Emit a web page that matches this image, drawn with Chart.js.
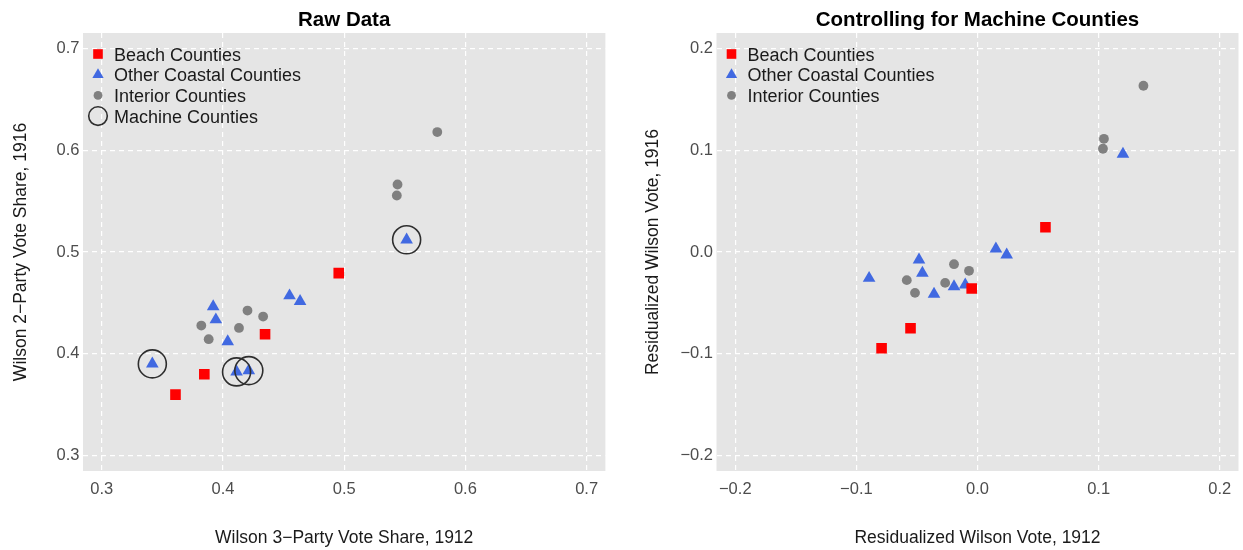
<!DOCTYPE html>
<html>
<head>
<meta charset="utf-8">
<title>Wilson vote share, 1912 vs 1916</title>
<script src="https://cdn.jsdelivr.net/npm/chart.js@4.4.1/dist/chart.umd.min.js"></script>
<style>
  html, body { margin: 0; padding: 0; background: #ffffff; overflow: hidden; }
  #wrap { position: relative; width: 1243px; height: 550px; overflow: hidden; }
  canvas { position: absolute; top: 0; }
  #rawChart { left: 0; }
  #residChart { left: 621px; }
</style>
</head>
<body>
<div id="wrap">
  <canvas id="rawChart" width="621" height="550"></canvas>
  <canvas id="residChart" width="625" height="550"></canvas>
</div>
<script>
// Wilson vote share by county type, raw and residualized

const seriesLabels = ['Beach Counties', 'Other Coastal Counties', 'Interior Counties', 'Machine Counties'];

// Raw data panel
const rawBeachX = [0.4955, 0.4347, 0.3846, 0.3608];
const rawBeachY = [0.4792, 0.4191, 0.3797, 0.3597];
const rawCoastalX = [0.5515, 0.4549, 0.4636, 0.3919, 0.3941, 0.4039, 0.3417, 0.4112, 0.4213];
const rawCoastalY = [0.5120, 0.4570, 0.4515, 0.4462, 0.4334, 0.4118, 0.3899, 0.3820, 0.3833];
const rawCoastalMachine = [true, false, false, false, false, false, true, true, true];
const rawInteriorX = [0.5768, 0.5440, 0.5434, 0.4202, 0.4331, 0.3821, 0.4132, 0.3882];
const rawInteriorY = [0.6180, 0.5664, 0.5556, 0.4424, 0.4365, 0.4276, 0.4253, 0.4142];
const rawTicksX = [0.3, 0.4, 0.5, 0.6, 0.7];
const rawTicksY = [0.3, 0.4, 0.5, 0.6, 0.7];

// Residualized panel
const resBeachX = [0.0561, -0.0048, -0.0553, -0.0792];
const resBeachY = [0.0244, -0.0359, -0.0750, -0.0947];
const resCoastalX = [0.1201, 0.0152, 0.0241, -0.0483, -0.0455, -0.0895, -0.0194, -0.0101, -0.0359];
const resCoastalY = [0.0963, 0.0031, -0.0028, -0.0077, -0.0208, -0.0258, -0.0340, -0.0323, -0.0415];
const resInteriorX = [0.1370, 0.1044, 0.1036, -0.0194, -0.0070, -0.0584, -0.0267, -0.0516];
const resInteriorY = [0.1636, 0.1114, 0.1016, -0.0120, -0.0185, -0.0277, -0.0304, -0.0402];
const resTicksX = [-0.2, -0.1, 0.0, 0.1, 0.2];
const resTicksY = [-0.2, -0.1, 0.0, 0.1, 0.2];

const FONT = "'Liberation Sans', Arial, Helvetica, sans-serif";
Chart.defaults.font.family = FONT;

function toPoints(xs, ys) {
    return xs.map((x, i) => ({ x: x, y: ys[i] }));
}

function fmt(v) {
    return v < 0 ? '\u2212' + Math.abs(v).toFixed(1) : v.toFixed(1);
}

// Draw one legend key
function drawKey(ctx, style, x, y, r, fill, stroke, lw) {
    ctx.beginPath();
    if (style === 'rect') {
        const s = r * Math.SQRT1_2;
        ctx.rect(x - s, y - s, 2 * s, 2 * s);
    } else if (style === 'triangle') {
        ctx.moveTo(x, y - r);
        ctx.lineTo(x + r * Math.sin(Math.PI * 2 / 3), y + r / 2);
        ctx.lineTo(x - r * Math.sin(Math.PI * 2 / 3), y + r / 2);
        ctx.closePath();
    } else {
        ctx.arc(x, y, r, 0, Math.PI * 2);
    }
    ctx.fillStyle = fill;
    ctx.fill();
    if (lw > 0) {
        ctx.strokeStyle = stroke;
        ctx.lineWidth = lw;
        ctx.stroke();
    }
}

// Grey panel behind the plot area
const panelBackground = {
    id: 'panelBackground',
    beforeDraw(chart) {
        const { ctx, chartArea: a } = chart;
        ctx.save();
        ctx.fillStyle = '#e5e5e5';
        ctx.fillRect(a.left, a.top, a.right - a.left, a.bottom - a.top);
        ctx.restore();
    }
};

// Bold title centred over the panel
const panelTitle = {
    id: 'panelTitle',
    afterDraw(chart, args, opts) {
        const { ctx, chartArea: a } = chart;
        ctx.save();
        ctx.font = 'bold 20.5px ' + FONT;
        ctx.fillStyle = '#000000';
        ctx.textAlign = 'center';
        ctx.textBaseline = 'alphabetic';
        ctx.fillText(opts.text, (a.left + a.right) / 2, 25.5);
        ctx.restore();
    }
};

// Legend drawn inside the top-left corner of the panel
const insideLegend = {
    id: 'insideLegend',
    afterDraw(chart) {
        const { ctx, chartArea: a } = chart;
        ctx.save();
        ctx.font = '18px ' + FONT;
        ctx.textBaseline = 'alphabetic';
        ctx.textAlign = 'left';
        chart.data.datasets.forEach((ds, i) => {
            const y = a.top + 21 + i * 20.7;
            drawKey(ctx, ds.pointStyle, a.left + 15, y, ds.legendRadius,
                    ds.backgroundColor, ds.borderColor, ds.borderWidth);
            ctx.fillStyle = '#1a1a1a';
            ctx.fillText(ds.label, a.left + 31, y + 6.5);
        });
        ctx.restore();
    }
};

function buildScales(cfg) {
    const grid = { color: '#ffffff', lineWidth: 1.2, drawTicks: false };
    const border = { display: false, dash: [5, 4] };
    const tickFont = { size: 16.5 };
    return {
        x: {
            type: 'linear',
            min: cfg.xMin,
            max: cfg.xMax,
            afterBuildTicks: s => { s.ticks = cfg.xTicks.map(v => ({ value: v })); },
            afterFit: s => { s.height = 79; },
            grid: grid,
            border: border,
            ticks: { padding: 8.5, color: '#4d4d4d', font: tickFont, autoSkip: false, maxRotation: 0, callback: fmt },
            title: { display: true, text: cfg.xTitle, color: '#1a1a1a', font: { size: 17.5 }, padding: { top: 0, bottom: 1.5 } }
        },
        y: {
            type: 'linear',
            min: cfg.yMin,
            max: cfg.yMax,
            afterBuildTicks: s => { s.ticks = cfg.yTicks.map(v => ({ value: v })); },
            afterFit: s => { s.width = cfg.yAxisWidth; },
            grid: grid,
            border: border,
            ticks: { padding: 3.5, color: '#4d4d4d', font: tickFont, autoSkip: false, callback: fmt },
            title: { display: true, text: cfg.yTitle, color: '#1a1a1a', font: { size: 17.5 }, padding: { top: cfg.yTitlePad, bottom: 0 } }
        }
    };
}

function pointSet(label, data, style, radius, color, order, legendRadius) {
    return {
        label: label,
        data: data,
        pointStyle: style,
        pointRadius: radius,
        pointHoverRadius: radius,
        backgroundColor: color,
        borderColor: color,
        borderWidth: 0,
        pointBorderWidth: 0,
        order: order,
        legendRadius: legendRadius
    };
}

function makeChart(id, datasets, cfg) {
    const ctx = document.getElementById(id).getContext('2d');
    return new Chart(ctx, {
        type: 'scatter',
        data: { datasets: datasets },
        options: {
            responsive: false,
            animation: false,
            layout: { padding: { top: 33, right: cfg.rightPad, bottom: 0, left: 0 } },
            scales: buildScales(cfg),
            plugins: {
                legend: { display: false },
                tooltip: { enabled: false },
                panelTitle: { text: cfg.title }
            }
        },
        plugins: [panelBackground, panelTitle, insideLegend]
    });
}

// Left panel: raw shares
const machinePoints = toPoints(rawCoastalX, rawCoastalY).filter((p, i) => rawCoastalMachine[i]);
const machineSet = {
    label: seriesLabels[3],
    data: machinePoints,
    pointStyle: 'circle',
    pointRadius: 14,
    pointHoverRadius: 14,
    backgroundColor: 'rgba(0,0,0,0)',
    borderColor: '#2e2e2e',
    borderWidth: 1.6,
    pointBorderWidth: 1.6,
    order: 0,
    legendRadius: 9.3
};

makeChart('rawChart', [
    pointSet(seriesLabels[0], toPoints(rawBeachX, rawBeachY), 'rect', 7.5, '#ff0000', 1, 6.8),
    pointSet(seriesLabels[1], toPoints(rawCoastalX, rawCoastalY), 'triangle', 7.3, '#4169e1', 2, 6.5),
    pointSet(seriesLabels[2], toPoints(rawInteriorX, rawInteriorY), 'circle', 4.9, '#808080', 3, 4.4),
    machineSet
], {
    title: 'Raw Data',
    xTitle: 'Wilson 3\u2212Party Vote Share, 1912',
    yTitle: 'Wilson 2\u2212Party Vote Share, 1916',
    xMin: 0.2845, xMax: 0.7155, xTicks: rawTicksX,
    yMin: 0.2845, yMax: 0.7155, yTicks: rawTicksY,
    yAxisWidth: 83, yTitlePad: 10.2, rightPad: 9
});

// Right panel: residualized on machine counties
makeChart('residChart', [
    pointSet(seriesLabels[0], toPoints(resBeachX, resBeachY), 'rect', 7.5, '#ff0000', 1, 6.8),
    pointSet(seriesLabels[1], toPoints(resCoastalX, resCoastalY), 'triangle', 7.3, '#4169e1', 2, 6.5),
    pointSet(seriesLabels[2], toPoints(resInteriorX, resInteriorY), 'circle', 4.9, '#808080', 3, 4.4)
], {
    title: 'Controlling for Machine Counties',
    xTitle: 'Residualized Wilson Vote, 1912',
    yTitle: 'Residualized Wilson Vote, 1916',
    xMin: -0.2155, xMax: 0.2155, xTicks: resTicksX,
    yMin: -0.2155, yMax: 0.2155, yTicks: resTicksY,
    yAxisWidth: 95.5, yTitlePad: 21.8, rightPad: 0
});
</script>
</body>
</html>
